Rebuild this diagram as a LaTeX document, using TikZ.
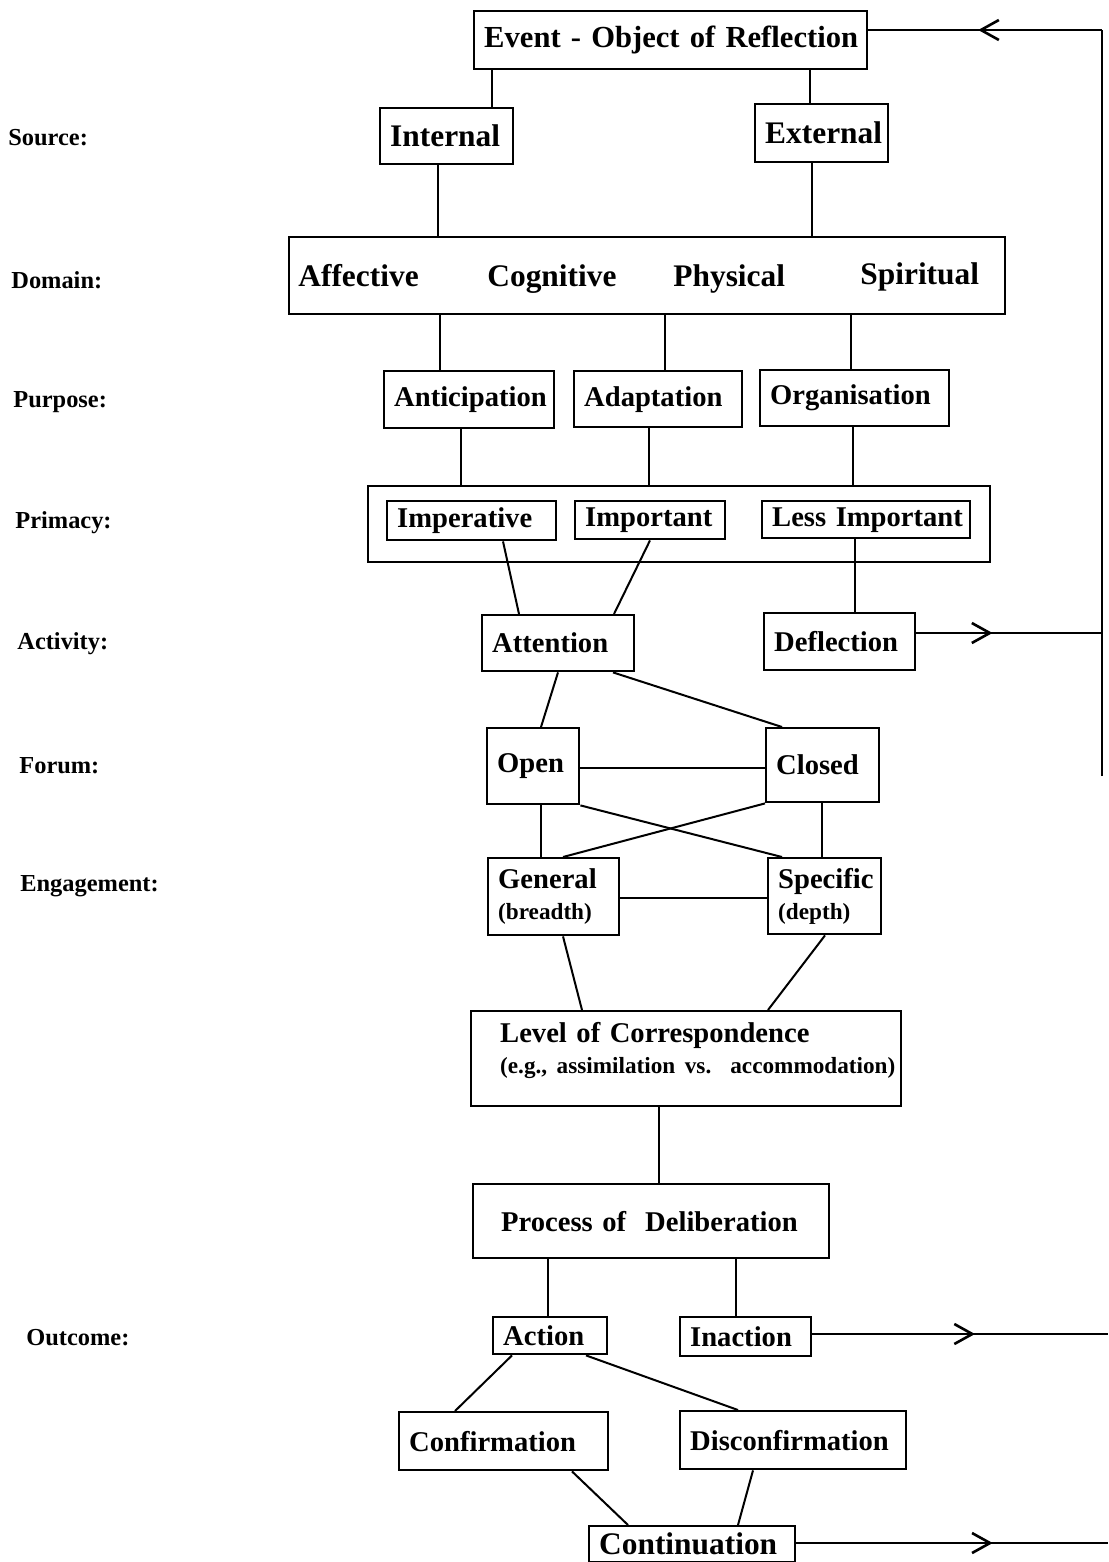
\documentclass[tikz,border=0pt]{standalone}
\usepackage{fontspec}
\setmainfont{Liberation Serif}
\usetikzlibrary{arrows.meta,decorations.markings}
\hyphenpenalty=10000
\exhyphenpenalty=10000
\newcommand{\subtxt}{\fontsize{11.6}{13}\selectfont}

\tikzset{
  box/.style={draw, line width=1.2pt, anchor=north west, align=left, inner xsep=5pt, inner ysep=0pt,
    font=\bfseries\fontsize{14.3}{15.5}\selectfont},
  bigtxt/.style={font=\bfseries\fontsize{15.7}{18}\selectfont},
  rowlbl/.style={anchor=west, inner sep=0pt, font=\bfseries\fontsize{12.2}{14}\selectfont},
  conn/.style={line width=1pt},
  midarrow/.style={conn, postaction={decorate}, decoration={markings,
    mark=at position #1 with {\arrow{Straight Barb[length=9pt,width=10pt,line width=1.3pt]}}}}
}

\begin{document}
\begin{tikzpicture}[x=0.5pt,y=0.5pt,yscale=-1,xscale=1]
\useasboundingbox (0,0) rectangle (1108,1562);

%Row labels
\node[rowlbl] (lsrc) at (8,138) {Source:};
\node[rowlbl] (ldom) at (11,280) {Domain:};
\node[rowlbl] (lpur) at (13,402) {Purpose:};
\node[rowlbl] (lpri) at (15,523) {Primacy:};
\node[rowlbl] (lact) at (17,644) {Activity:};
\node[rowlbl] (lfor) at (19,766) {Forum:};
\node[rowlbl] (leng) at (20,886) {Engagement:};
\node[rowlbl] (lout) at (26,1338) {Outcome:};

%Boxes
\node[box, font=\bfseries\fontsize{15.3}{18}\selectfont, text width=186.5pt, minimum height=29pt] (ev) at (473,10) {\mbox{Event - Object of Reflection}};
\node[box, bigtxt, text width=56.5pt, minimum height=28pt] (int) at (379,107) {Internal};
\node[box, bigtxt, text width=56.5pt, minimum height=29pt] (ext) at (754,103) {External};

\node[box, text width=348pt, minimum height=38.5pt] (dom) at (288,236) {};
\node[bigtxt, anchor=base west, inner sep=0pt] (aff) at (298,286) {Affective};
\node[bigtxt, anchor=base west, inner sep=0pt] (cog) at (487,286) {Cognitive};
\node[bigtxt, anchor=base west, inner sep=0pt] (phy) at (673,286) {Physical};
\node[bigtxt, anchor=base west, inner sep=0pt] (spi) at (860,285) {Spiritual};

\node[box, text width=75pt, minimum height=28.5pt] (ant) at (383,370) {Anticipation};
\node[box, text width=74pt, minimum height=28pt] (ada) at (573,370) {Adaptation};
\node[box, text width=84.5pt, minimum height=28pt] (org) at (759,369) {Organisation};

\node[box, text width=301pt, minimum height=38pt] (pri) at (367,485) {};
\node[box, text width=74.5pt, minimum height=19.5pt] (imp) at (386,500) {Imperative};
\node[box, text width=65pt, minimum height=19pt] (ipt) at (574,500) {Important};
\node[box, text width=94pt, minimum height=18.5pt] (les) at (761,500) {\mbox{Less Important}};

\node[box, text width=66pt, minimum height=28pt] (att) at (481,614) {Attention};
\node[box, text width=65.5pt, minimum height=28.5pt] (def) at (763,612) {Deflection};

\node[box, text width=36pt, minimum height=38pt] (opn) at (486,727) {Open};
\node[box, text width=46.5pt, minimum height=37pt] (cls) at (765,727) {Closed};

\node[box, text width=55.5pt, minimum height=38.5pt] (gen) at (487,857) {General\\{\subtxt (breadth)}};
\node[box, text width=46.5pt, minimum height=38pt] (spc) at (767,857) {Specific\\{\subtxt (depth)}};

\node[box, inner xsep=14.5pt, text width=186pt, minimum height=47.5pt] (lev) at (470,1010)
  {\mbox{Level of Correspondence}\\{\subtxt\mbox{(e.g., assimilation vs.\ \ accommodation)}\rule[-11pt]{0pt}{1pt}}};
\node[box, inner xsep=14pt, text width=150pt, minimum height=37pt] (pro) at (472,1183) {\mbox{Process of\ \ Deliberation}};

\node[box, text width=47pt, minimum height=18.5pt] (act) at (492,1316) {Action};
\node[box, text width=55.5pt, minimum height=19.5pt] (ina) at (679,1316) {Inaction};

\node[box, text width=94.5pt, minimum height=29pt] (con) at (398,1411) {Confirmation};
\node[box, text width=103pt, minimum height=29pt] (dis) at (679,1410) {Disconfirmation};
\node[box, bigtxt, text width=93pt, minimum height=18pt] (cnt) at (588,1525) {Continuation};

%Straight Lines
\draw[conn] (ev.south -| 492,0) -- (int.north -| 492,0);
\draw[conn] (ev.south -| 810,0) -- (ext.north -| 810,0);
\draw[conn] (int.south -| 438,0) -- (dom.north -| 438,0);
\draw[conn] (ext.south -| 812,0) -- (dom.north -| 812,0);
\draw[conn] (dom.south -| 440,0) -- (ant.north -| 440,0);
\draw[conn] (dom.south -| 665,0) -- (ada.north -| 665,0);
\draw[conn] (dom.south -| 851,0) -- (org.north -| 851,0);
\draw[conn] (ant.south -| 461,0) -- (pri.north -| 461,0);
\draw[conn] (ada.south -| 649,0) -- (pri.north -| 649,0);
\draw[conn] (org.south -| 853,0) -- (pri.north -| 853,0);
\draw[conn] (imp.south -| 503,0) -- (att.north -| 519,0);
\draw[conn] (ipt.south -| 650,0) -- (att.north -| 614,0);
\draw[conn] (les.south -| 855,0) -- (def.north -| 855,0);
\draw[conn] (att.south -| 558,0) -- (opn.north -| 541,0);
\draw[conn] (att.south -| 613,0) -- (cls.north -| 782,0);
\draw[conn] (opn.east |- 0,768) -- (cls.west |- 0,768);
\draw[conn] (opn.south -| 541,0) -- (gen.north -| 541,0);
\draw[conn] (cls.south -| 822,0) -- (spc.north -| 822,0);
\draw[conn] (opn.south east) -- (spc.north -| 782,0);
\draw[conn] (cls.south west) -- (gen.north -| 563,0);
\draw[conn] (gen.east |- 0,898) -- (spc.west |- 0,898);
\draw[conn] (gen.south -| 563,0) -- (lev.north -| 582,0);
\draw[conn] (spc.south -| 825,0) -- (lev.north -| 768,0);
\draw[conn] (lev.south -| 659,0) -- (pro.north -| 659,0);
\draw[conn] (pro.south -| 548,0) -- (act.north -| 548,0);
\draw[conn] (pro.south -| 736,0) -- (ina.north -| 736,0);
\draw[conn] (act.south -| 512,0) -- (con.north -| 455,0);
\draw[conn] (act.south -| 586,0) -- (dis.north -| 738,0);
\draw[conn] (con.south -| 572,0) -- (cnt.north -| 628,0);
\draw[conn] (dis.south -| 753,0) -- (cnt.north -| 738,0);

%Return lines
\coordinate (rt) at (1102,30);
\coordinate (rb) at (1102,776);
\coordinate (fd) at (1102,633);
\coordinate (fi) at (1108,1334);
\coordinate (fc) at (1108,1543);
\draw[conn] (rb) -- (rt);
\draw[midarrow=0.53] (rt) -- (ev.east |- rt);
\draw[midarrow=0.41] (def.east |- fd) -- (fd);
\draw[midarrow=0.55] (ina.east |- fi) -- (fi);
\draw[midarrow=0.63] (cnt.east |- fc) -- (fc);
\end{tikzpicture}
\end{document}
